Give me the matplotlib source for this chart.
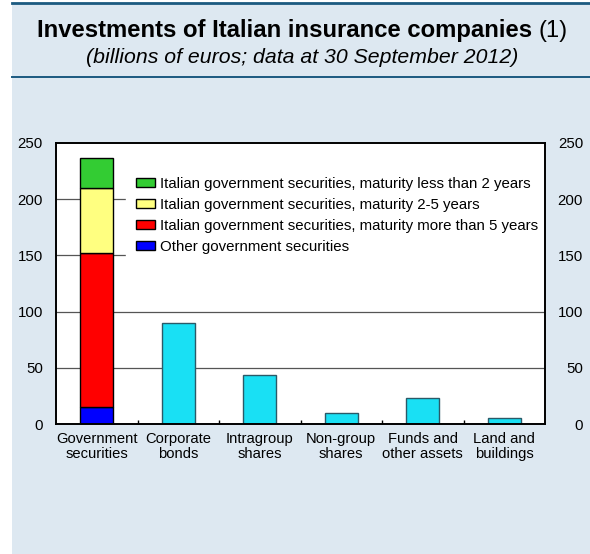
import matplotlib.pyplot as plt
from matplotlib.lines import Line2D
from matplotlib.patches import Rectangle, Patch

plt.rcParams['font.family'] = ['Liberation Sans', 'DejaVu Sans']

# data (billions of euros)
categories = ['Government\nsecurities', 'Corporate\nbonds', 'Intragroup\nshares',
              'Non-group\nshares', 'Funds and\nother assets', 'Land and\nbuildings']
gov_labels = ['Other government securities',
              'Italian government securities, maturity more than 5 years',
              'Italian government securities, maturity 2-5 years',
              'Italian government securities, maturity less than 2 years']
gov_values = [15, 137.5, 57.5, 27]
gov_colors = ['#0000ff', '#ff0000', '#ffff80', '#33cc33']
other_values = [89.5, 44, 9.5, 23, 5.5]
yticks = [0, 50, 100, 150, 200, 250]

W, H = 590, 554
fig = plt.figure(figsize=(W / 100, H / 100), dpi=100)
fig.patch.set_facecolor('white')

def fx(px):
    return px / W

def fy(py):
    return 1 - py / H

# light blue panel and dark rules
fig.add_artist(Rectangle((fx(12), 0), 1 - fx(12), fy(3), transform=fig.transFigure,
                         facecolor='#dde8f1', edgecolor='none', zorder=0))
fig.add_artist(Line2D([fx(12), 1], [fy(3), fy(3)], transform=fig.transFigure,
                      color='#1b5a80', lw=2.0))
fig.add_artist(Line2D([fx(12), 1], [fy(77), fy(77)], transform=fig.transFigure,
                      color='#1b5a80', lw=1.4))

fig.text(fx(37), fy(36.7), 'Investments of Italian insurance companies',
         fontsize=17.2, fontweight='bold', ha='left', va='baseline')
fig.text(fx(539), fy(36.7), '(1)', fontsize=17, ha='left', va='baseline')
fig.text(fx(302), fy(63), '(billions of euros; data at 30 September 2012)',
         fontsize=15.3, style='italic', ha='center', va='baseline')

ax = fig.add_axes([fx(56), fy(424), (545 - 56) / W, (424 - 143) / H])
ax.set_facecolor('white')

# stacked government securities bar
bottom = 0
for v, c in zip(gov_values, gov_colors):
    ax.bar(0, v, bottom=bottom, width=0.4, color=c, edgecolor='black', lw=1.0, zorder=3)
    bottom += v

ax.bar(range(1, len(categories)), other_values, width=0.4, color='#19e0f4',
       edgecolor='#2a5a68', lw=1.0, zorder=3)

ax.set_xlim(-0.5, len(categories) - 0.5)
ax.set_ylim(0, 250)
ax.set_yticks(yticks)
ax.set_xticks(range(len(categories)))
ax.set_xticklabels(categories, fontsize=10.6, linespacing=1.05)
ax.set_xticks([i + 0.5 for i in range(len(categories) - 1)], minor=True)
ax.tick_params(axis='x', which='major', length=0, pad=6)
ax.tick_params(axis='x', which='minor', direction='in', length=3, width=1)
ax.tick_params(axis='y', length=0, labelsize=10.8, pad=9.4)

for y in yticks[1:-1]:
    ax.axhline(y, color='#555555', lw=0.9, zorder=1)

for s in ax.spines.values():
    s.set_linewidth(1.4)
    s.set_zorder(6)

ax2 = ax.twinx()
ax2.set_ylim(0, 250)
ax2.set_yticks(yticks)
ax2.tick_params(axis='y', length=0, labelsize=10.8, pad=27.4)
for lab in ax2.get_yticklabels():
    lab.set_ha('right')
for s in ax2.spines.values():
    s.set_visible(False)

handles = [Patch(facecolor=c, edgecolor='black', lw=1.0) for c in gov_colors[::-1]]
leg = ax.legend(handles, gov_labels[::-1], loc='upper left',
                bbox_to_anchor=((126 - 56) / 489, (424 - 167) / 281),
                borderaxespad=0, borderpad=0.65, fontsize=10.8, frameon=True,
                fancybox=False, edgecolor='white', facecolor='white', framealpha=1,
                handlelength=1.3, handleheight=0.55, handletextpad=0.3,
                labelspacing=0.47)
leg.set_zorder(5)
leg.legendPatch.set_clip_box(ax.bbox)
leg.legendPatch.set_clip_on(True)

fig.savefig('out.png', dpi=100)
